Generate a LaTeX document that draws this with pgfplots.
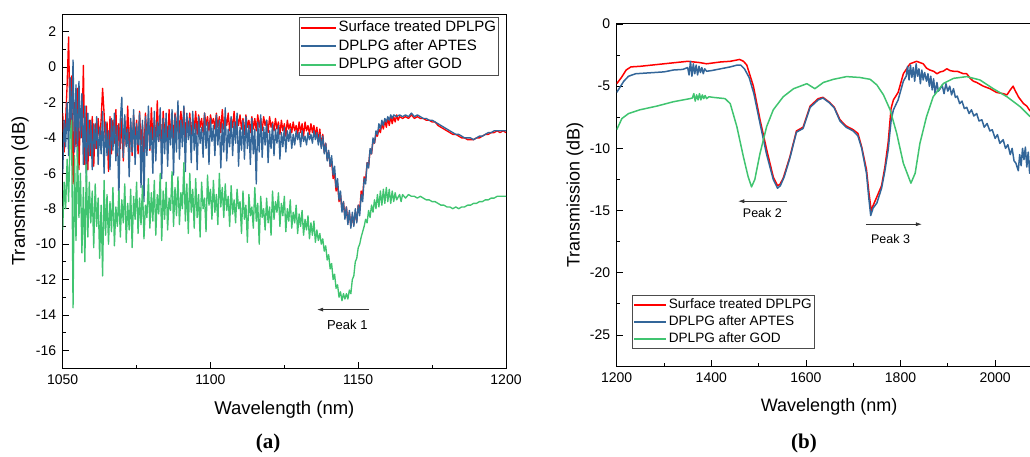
\documentclass[border=0pt]{standalone}
\usepackage{fontspec}
\setmainfont{Liberation Sans}
\newfontfamily\capfont{Liberation Serif}
\usepackage{pgfplots}
\pgfplotsset{compat=1.18}
\usetikzlibrary{arrows.meta}
\definecolor{cRed}{RGB}{255,0,0}
\definecolor{cBlue}{RGB}{51,102,153}
\definecolor{cGreen}{RGB}{64,196,112}

\pgfplotsset{
  specplot/.style={
    scale only axis,
    anchor=south west,
    axis line style={line width=1pt},
    tick align=inside,
    tick pos=left,
    major tick length=6pt, minor tick length=3.5pt,
    every tick/.style={black, line width=0.8pt},
    minor x tick num=1, minor y tick num=1,
    tick label style={font=\fontsize{14}{16}\selectfont},
    label style={font=\fontsize{18.5}{21}\selectfont},
    /pgf/number format/assume math mode=true,
    /pgf/number format/1000 sep={},
    yticklabel style={xshift=-3pt},
    xticklabel style={yshift=-3pt},
    legend cell align=left,
    every axis plot/.append style={line width=1.35pt, line join=round},
  }
}

\begin{document}
\begin{tikzpicture}
\useasboundingbox (0,0) rectangle (1030pt,456pt);

% ---------- (a) ----------
\begin{axis}[specplot,
  at={(62.7pt,88pt)}, width=443.3pt, height=354pt,
  xmin=1050, xmax=1200, ymin=-17, ymax=3,
  xtick={1050,1100,1150,1200},
  ytick={-16,-14,-12,-10,-8,-6,-4,-2,0,2},
  xlabel={Wavelength (nm)}, ylabel={Transmission (dB)},
  xlabel style={at={(axis description cs:0.5,-0.1186)}, anchor=center},
  ylabel style={at={(axis description cs:-0.0963,0.5)}, anchor=center},
  legend image code/.code={\draw[#1,line width=2pt] (0pt,0pt) -- (35pt,0pt);},
  legend style={at={(1,1)}, anchor=north east, xshift=-7pt, yshift=-3pt,
    draw=black!70, line width=0.7pt, font=\fontsize{15}{18}\selectfont,
    inner sep=1pt, row sep=0pt,
    nodes={inner sep=1.5pt, text height=12pt, text depth=3.5pt}},
]
\addplot[cRed] coordinates {
(1050,-2.6)(1050.5,-4.8)(1051,-3.0)(1051.5,-1.0)(1052,1.7)(1052.5,-3.5)(1053,-0.5)(1053.5,-6.6)(1054,-2.0)(1054.5,-4.5)
(1055,-1.2)(1055.5,-5.8)(1056,-2.5)(1056.5,-4.0)(1057,0.1)(1057.5,-5.5)(1058,-2.2)(1058.5,-5.8)(1059,-3.0)(1059.5,-5.0)
(1060,-2.8)(1060.5,-5.6)(1061,-3.2)(1061.5,-4.6)(1062,-2.9)(1062.5,-4.2)(1063,-3.0)(1063.5,-1.2)(1064,-2.6)(1064.5,-4.5)
(1065,-3.1)(1065.5,-5.9)(1066,-2.8)(1066.5,-4.9)(1067,-3.0)(1067.5,-4.3)(1068,-2.4)(1068.5,-5.0)(1069,-3.2)(1069.5,-4.6)
(1070,-2.9)(1070.5,-5.3)(1071,-3.0)(1071.5,-4.4)(1072,-2.2)(1072.5,-4.8)(1073,-3.1)(1073.5,-5.0)(1074,-2.7)(1074.5,-4.2)
(1075,-3.0)(1075.5,-4.9)(1076,-2.5)(1076.5,-4.4)(1077,-3.3)(1077.5,-5.1)(1078,-2.6)(1078.5,-4.0)(1079,-2.9)(1079.5,-4.7)
(1080,-2.3)(1080.5,-4.1)(1081,-3.0)(1081.5,-4.5)(1082,-1.9)(1082.5,-4.2)(1083,-2.8)(1083.5,-4.6)(1084,-2.5)(1084.5,-3.9)
(1085,-2.9)(1085.5,-4.4)(1086,-2.4)(1086.5,-4.0)(1087,-2.7)(1087.5,-4.3)(1088,-2.6)(1088.5,-3.8)(1089,-2.2)(1089.5,-4.1)
(1090,-2.5)(1090.5,-3.7)(1091,-2.3)(1091.5,-4.0)(1092,-2.8)(1092.5,-3.6)(1093,-2.6)(1093.5,-3.9)(1094,-2.9)(1094.5,-3.5)
(1095,-2.5)(1095.5,-3.8)(1096,-2.7)(1096.5,-3.4)(1097,-2.9)(1097.5,-3.7)(1098,-2.6)(1098.5,-3.3)(1099,-2.8)(1099.5,-3.6)
(1100,-2.7)(1100.5,-3.2)(1101,-2.9)(1101.5,-3.5)(1102,-2.6)(1102.5,-3.4)(1103,-2.8)(1103.5,-3.7)(1104,-2.4)(1104.5,-3.5)
(1105,-2.8)(1105.5,-3.3)(1106,-2.6)(1106.5,-3.6)(1107,-2.9)(1107.5,-3.4)(1108,-2.5)(1108.5,-3.7)(1109,-2.8)(1109.5,-3.3)
(1110,-2.7)(1110.5,-3.5)(1111,-2.9)(1111.5,-3.8)(1112,-2.7)(1112.5,-3.4)(1113,-3.0)(1113.5,-3.7)(1114,-2.8)(1114.5,-3.5)
(1115,-2.9)(1115.5,-3.6)(1116,-2.7)(1116.5,-3.4)(1117,-2.9)(1117.5,-3.6)(1118,-2.8)(1118.5,-3.3)(1119,-3.0)(1119.5,-3.7)
(1120,-2.8)(1120.5,-3.4)(1121,-3.1)(1121.5,-3.6)(1122,-2.9)(1122.5,-3.5)(1123,-3.1)(1123.5,-3.8)(1124,-3.0)(1124.5,-3.6)
(1125,-3.2)(1125.5,-3.9)(1126,-3.0)(1126.5,-3.5)(1127,-3.2)(1127.5,-3.7)(1128,-3.1)(1128.5,-3.6)(1129,-3.3)(1129.5,-3.8)
(1130,-3.1)(1130.5,-3.7)(1131,-3.2)(1131.5,-3.9)(1132,-3.1)(1132.5,-3.6)(1133,-3.3)(1133.5,-3.8)(1134,-3.2)(1134.5,-3.7)
(1135,-3.3)(1135.5,-3.9)(1136,-3.4)(1136.5,-4.2)(1137,-3.5)(1137.5,-4.5)(1138,-3.8)(1138.5,-4.8)(1139,-4.3)(1139.5,-5.2)
(1140,-4.8)(1140.5,-5.6)(1141,-5.3)(1141.5,-6.3)(1142,-6.0)(1142.5,-7.0)(1143,-6.6)(1143.5,-7.6)(1144,-7.2)(1144.5,-8.1)
(1145,-7.6)(1145.5,-8.5)(1146,-7.9)(1146.5,-8.8)(1147,-8.2)(1147.5,-9.0)(1148,-8.4)(1148.5,-8.9)(1149,-8.2)(1149.5,-8.7)
(1150,-7.8)(1150.5,-8.1)(1151,-7.0)(1151.5,-7.3)(1152,-6.2)(1152.5,-6.4)(1153,-5.4)(1153.5,-5.6)(1154,-4.7)(1154.5,-4.9)
(1155,-4.2)(1155.5,-4.3)(1156,-3.8)(1156.5,-3.9)(1157,-3.5)(1157.5,-3.7)(1158,-3.2)(1158.5,-3.5)(1159,-3.0)(1159.5,-3.4)
(1160,-2.9)(1160.5,-3.3)(1161,-2.8)(1161.5,-3.2)(1162,-2.8)(1162.5,-3.1)(1163,-2.7)(1163.5,-3.0)(1164,-2.8)(1165,-2.9)
(1166,-2.8)(1167,-2.9)(1168,-2.7)(1169,-2.9)(1170,-2.8)(1171,-2.9)(1172,-2.9)(1173,-3.0)(1174,-3.0)(1175,-3.1)
(1176,-3.1)(1177,-3.3)(1178,-3.4)(1179,-3.5)(1180,-3.6)(1181,-3.7)(1182,-3.8)(1183,-3.8)(1184,-3.9)(1185,-4.0)
(1186,-4.0)(1187,-4.1)(1188,-4.1)(1189,-4.1)(1190,-4.0)(1191,-4.0)(1192,-3.9)(1193,-3.8)(1194,-3.8)(1195,-3.7)
(1196,-3.7)(1197,-3.6)(1198,-3.7)(1199,-3.6)(1200,-3.7)
};
\addlegendentry{Surface treated DPLPG}
\addplot[cBlue] coordinates {
(1050,-6.0)(1050.5,-3.0)(1051,-4.5)(1051.5,-2.0)(1052,-5.0)(1052.5,-0.6)(1053,-3.8)(1053.5,0.4)(1054,-4.8)(1054.5,-1.0)
(1055,-5.2)(1055.5,-0.8)(1056,-4.0)(1056.5,-1.5)(1057,-5.5)(1057.5,-2.2)(1058,-6.5)(1058.5,-2.6)(1059,-5.0)(1059.5,-3.0)
(1060,-5.8)(1060.5,-3.2)(1061,-4.6)(1061.5,-2.8)(1062,-5.5)(1062.5,-3.4)(1063,-4.9)(1063.5,-2.5)(1064,-6.0)(1064.5,-3.1)
(1065,-5.0)(1065.5,-3.6)(1066,-5.8)(1066.5,-2.9)(1067,-4.7)(1067.5,-2.6)(1068,-5.3)(1068.5,-3.3)(1069,-7.5)(1069.5,-3.0)
(1070,-1.7)(1070.5,-5.1)(1071,-2.7)(1071.5,-4.5)(1072,-3.5)(1072.5,-6.2)(1073,-2.9)(1073.5,-4.8)(1074,-2.4)(1074.5,-5.5)
(1075,-3.2)(1075.5,-4.4)(1076,-2.6)(1076.5,-6.8)(1077,-3.0)(1077.5,-7.6)(1078,-2.8)(1078.5,-5.0)(1079,-2.2)(1079.5,-4.6)
(1080,-3.4)(1080.5,-6.0)(1081,-2.5)(1081.5,-5.3)(1082,-3.1)(1082.5,-4.2)(1083,-2.3)(1083.5,-6.3)(1084,-2.9)(1084.5,-4.9)
(1085,-2.6)(1085.5,-5.6)(1086,-3.3)(1086.5,-4.4)(1087,-2.4)(1087.5,-6.1)(1088,-2.7)(1088.5,-4.8)(1089,-1.9)(1089.5,-5.2)
(1090,-3.0)(1090.5,-4.5)(1091,-2.2)(1091.5,-5.9)(1092,-2.6)(1092.5,-4.1)(1093,-2.9)(1093.5,-5.4)(1094,-2.5)(1094.5,-4.7)
(1095,-3.2)(1095.5,-5.8)(1096,-2.8)(1096.5,-4.3)(1097,-3.4)(1097.5,-5.1)(1098,-2.6)(1098.5,-4.6)(1099,-3.1)(1099.5,-5.5)
(1100,-2.9)(1100.5,-4.2)(1101,-3.3)(1101.5,-5.0)(1102,-2.7)(1102.5,-4.4)(1103,-3.0)(1103.5,-5.7)(1104,-3.2)(1104.5,-4.8)
(1105,-2.3)(1105.5,-5.3)(1106,-3.5)(1106.5,-4.5)(1107,-2.8)(1107.5,-5.0)(1108,-3.1)(1108.5,-4.3)(1109,-2.6)(1109.5,-5.6)
(1110,-3.4)(1110.5,-4.7)(1111,-3.0)(1111.5,-5.2)(1112,-2.8)(1112.5,-4.6)(1113,-3.3)(1113.5,-5.5)(1114,-2.9)(1114.5,-4.9)
(1115,-3.5)(1115.5,-6.6)(1116,-3.1)(1116.5,-4.8)(1117,-2.7)(1117.5,-5.1)(1118,-3.4)(1118.5,-4.4)(1119,-3.0)(1119.5,-5.4)
(1120,-3.6)(1120.5,-4.6)(1121,-3.2)(1121.5,-5.0)(1122,-3.5)(1122.5,-4.3)(1123,-3.3)(1123.5,-5.2)(1124,-3.7)(1124.5,-4.5)
(1125,-3.4)(1125.5,-4.8)(1126,-3.6)(1126.5,-4.2)(1127,-3.5)(1127.5,-4.6)(1128,-3.8)(1128.5,-4.4)(1129,-3.6)(1129.5,-4.1)
(1130,-3.7)(1130.5,-4.5)(1131,-3.6)(1131.5,-4.2)(1132,-3.9)(1132.5,-4.4)(1133,-3.7)(1133.5,-4.1)(1134,-3.8)(1134.5,-4.3)
(1135,-3.6)(1135.5,-4.1)(1136,-3.7)(1136.5,-4.4)(1137,-3.8)(1137.5,-4.6)(1138,-3.9)(1138.5,-4.9)(1139,-4.3)(1139.5,-5.3)
(1140,-4.7)(1140.5,-5.6)(1141,-5.0)(1141.5,-6.1)(1142,-5.6)(1142.5,-6.8)(1143,-6.3)(1143.5,-7.5)(1144,-7.0)(1144.5,-8.2)
(1145,-7.6)(1145.5,-8.6)(1146,-7.9)(1146.5,-8.9)(1147,-8.1)(1147.5,-9.1)(1148,-8.2)(1148.5,-9.0)(1149,-8.0)(1149.5,-8.8)
(1150,-7.8)(1150.5,-8.4)(1151,-7.2)(1151.5,-7.6)(1152,-6.3)(1152.5,-6.6)(1153,-5.4)(1153.5,-5.7)(1154,-4.6)(1154.5,-4.9)
(1155,-4.0)(1155.5,-4.3)(1156,-3.6)(1156.5,-3.8)(1157,-3.2)(1157.5,-3.5)(1158,-3.0)(1158.5,-3.3)(1159,-2.9)(1159.5,-3.1)
(1160,-2.8)(1160.5,-3.0)(1161,-2.7)(1161.5,-2.9)(1162,-2.7)(1163,-2.8)(1164,-2.7)(1165,-2.8)(1166,-2.7)(1167,-2.8)
(1168,-2.6)(1169,-2.8)(1170,-2.7)(1171,-2.8)(1172,-2.9)(1173,-2.9)(1174,-3.0)(1175,-3.0)(1176,-3.1)(1177,-3.2)
(1178,-3.3)(1179,-3.4)(1180,-3.5)(1181,-3.6)(1182,-3.7)(1183,-3.8)(1184,-3.8)(1185,-3.9)(1186,-4.0)(1187,-4.0)
(1188,-4.0)(1189,-4.1)(1190,-4.0)(1191,-3.9)(1192,-3.9)(1193,-3.8)(1194,-3.7)(1195,-3.7)(1196,-3.6)(1197,-3.6)
(1198,-3.6)(1199,-3.6)(1200,-3.6)
};
\addlegendentry{DPLPG after APTES}
\addplot[cGreen] coordinates {
(1050,-9.2)(1050.5,-6.5)(1051,-8.0)(1051.5,-5.2)(1052,-7.6)(1052.5,-4.0)(1053,-3.0)(1053.5,-13.6)(1054,-5.0)(1054.5,-9.8)
(1055,-4.5)(1055.5,-8.5)(1056,-6.0)(1056.5,-10.5)(1057,-6.8)(1057.5,-11.0)(1058,-5.5)(1058.5,-9.6)(1059,-6.5)(1059.5,-8.8)
(1060,-7.0)(1060.5,-10.2)(1061,-6.6)(1061.5,-9.0)(1062,-7.4)(1062.5,-10.8)(1063,-7.8)(1063.5,-11.8)(1064,-6.4)(1064.5,-9.5)
(1065,-7.2)(1065.5,-10.0)(1066,-7.6)(1066.5,-9.3)(1067,-6.8)(1067.5,-10.1)(1068,-7.9)(1068.5,-9.0)(1069,-7.0)(1069.5,-9.6)
(1070,-7.5)(1070.5,-8.8)(1071,-6.6)(1071.5,-9.9)(1072,-7.7)(1072.5,-9.2)(1073,-6.9)(1073.5,-10.2)(1074,-7.3)(1074.5,-8.6)
(1075,-6.5)(1075.5,-9.4)(1076,-7.4)(1076.5,-8.9)(1077,-6.7)(1077.5,-9.7)(1078,-7.8)(1078.5,-8.5)(1079,-6.3)(1079.5,-9.1)
(1080,-7.1)(1080.5,-8.7)(1081,-6.4)(1081.5,-9.5)(1082,-7.2)(1082.5,-8.3)(1083,-6.0)(1083.5,-9.8)(1084,-7.0)(1084.5,-8.6)
(1085,-6.5)(1085.5,-9.2)(1086,-7.4)(1086.5,-8.1)(1087,-5.9)(1087.5,-9.0)(1088,-6.8)(1088.5,-8.4)(1089,-6.2)(1089.5,-8.9)
(1090,-7.1)(1090.5,-8.0)(1091,-5.4)(1091.5,-8.7)(1092,-6.6)(1092.5,-9.4)(1093,-6.0)(1093.5,-8.2)(1094,-6.9)(1094.5,-9.1)
(1095,-6.3)(1095.5,-8.5)(1096,-7.2)(1096.5,-9.6)(1097,-6.5)(1097.5,-8.0)(1098,-7.4)(1098.5,-9.3)(1099,-6.1)(1099.5,-7.8)
(1100,-6.9)(1100.5,-8.6)(1101,-6.4)(1101.5,-8.2)(1102,-7.2)(1102.5,-8.9)(1103,-6.0)(1103.5,-7.9)(1104,-6.8)(1104.5,-8.5)
(1105,-6.6)(1105.5,-8.1)(1106,-7.3)(1106.5,-9.0)(1107,-6.7)(1107.5,-8.3)(1108,-7.5)(1108.5,-8.8)(1109,-6.9)(1109.5,-8.0)
(1110,-7.6)(1110.5,-9.4)(1111,-7.0)(1111.5,-8.6)(1112,-7.8)(1112.5,-9.9)(1113,-7.2)(1113.5,-8.4)(1114,-7.9)(1114.5,-9.1)
(1115,-6.8)(1115.5,-8.7)(1116,-7.7)(1116.5,-10.0)(1117,-7.3)(1117.5,-8.5)(1118,-8.0)(1118.5,-9.2)(1119,-7.4)(1119.5,-8.8)
(1120,-7.9)(1120.5,-9.5)(1121,-7.0)(1121.5,-8.6)(1122,-7.6)(1122.5,-8.2)(1123,-7.1)(1123.5,-9.0)(1124,-7.7)(1124.5,-8.4)
(1125,-7.3)(1125.5,-9.3)(1126,-8.0)(1126.5,-8.7)(1127,-7.5)(1127.5,-9.1)(1128,-8.2)(1128.5,-8.8)(1129,-7.8)(1129.5,-9.4)
(1130,-8.3)(1130.5,-9.0)(1131,-8.1)(1131.5,-9.5)(1132,-8.6)(1132.5,-9.2)(1133,-8.4)(1133.5,-9.7)(1134,-8.8)(1134.5,-9.5)
(1135,-8.7)(1135.5,-9.9)(1136,-9.2)(1136.5,-9.8)(1137,-9.4)(1137.5,-10.0)(1138,-9.7)(1138.5,-10.4)(1139,-10.1)(1139.5,-10.9)
(1140,-10.6)(1140.5,-11.4)(1141,-11.1)(1141.5,-12.0)(1142,-11.7)(1142.5,-12.5)(1143,-12.3)(1143.5,-13.0)(1144,-12.7)(1144.5,-13.2)
(1145,-12.8)(1145.5,-13.1)(1146,-12.8)(1146.5,-13.1)(1147,-12.6)(1147.5,-12.8)(1148,-12.0)(1148.5,-11.8)(1149,-11.0)(1149.5,-10.8)
(1150,-10.2)(1150.5,-10.0)(1151,-9.6)(1151.5,-9.3)(1152,-9.0)(1152.5,-8.6)(1153,-8.8)(1153.5,-8.1)(1154,-8.5)(1154.5,-7.8)
(1155,-8.2)(1155.5,-7.5)(1156,-8.0)(1156.5,-7.2)(1157,-7.9)(1157.5,-7.0)(1158,-7.8)(1158.5,-6.9)(1159,-7.7)(1159.5,-6.8)
(1160,-7.6)(1160.5,-6.9)(1161,-7.7)(1161.5,-7.0)(1162,-7.6)(1162.5,-7.1)(1163,-7.5)(1164,-7.2)(1164.5,-7.6)(1165,-7.2)
(1166,-7.4)(1167,-7.2)(1168,-7.3)(1169,-7.3)(1170,-7.4)(1171,-7.3)(1172,-7.4)(1173,-7.5)(1174,-7.5)(1175,-7.6)
(1176,-7.6)(1177,-7.7)(1178,-7.8)(1179,-7.8)(1180,-7.9)(1181,-7.9)(1182,-8.0)(1183,-7.9)(1184,-8.0)(1185,-7.9)
(1186,-7.9)(1187,-7.8)(1188,-7.8)(1189,-7.7)(1190,-7.7)(1191,-7.6)(1192,-7.6)(1193,-7.5)(1194,-7.5)(1195,-7.4)
(1196,-7.4)(1197,-7.3)(1198,-7.3)(1199,-7.3)(1200,-7.3)
};
\addlegendentry{DPLPG after GOD}
\draw[-{Latex[length=6pt,width=4pt]}, line width=0.6pt, black!80] (axis cs:1153.7,-13.7) -- (axis cs:1136.1,-13.7);
\node[font=\fontsize{13}{15}\selectfont] at (axis cs:1146.3,-14.55) {Peak 1};
\end{axis}

% ---------- (b) ----------
\begin{axis}[specplot,
  at={(616.7pt,90pt)}, width=473pt, height=342pt,
  xmin=1200, xmax=2200, ymin=-27.5, ymax=0,
  xtick={1200,1400,1600,1800,2000},
  minor xtick={1300,1500,1700,1900,2100},
  ytick={-25,-20,-15,-10,-5,0},
  xlabel={Wavelength (nm)}, ylabel={Transmission (dB)},
  label style={font=\fontsize{18}{21}\selectfont},
  xlabel style={at={(axis description cs:0.449,-0.119)}, anchor=center},
  ylabel style={at={(axis description cs:-0.0882,0.5)}, anchor=center},
  legend image code/.code={\draw[#1,line width=2pt] (0pt,0pt) -- (32pt,0pt);},
  legend style={at={(0,0)}, anchor=south west, xshift=15.3pt, yshift=17pt,
    draw=black!70, line width=0.7pt, font=\fontsize{13.6}{16}\selectfont,
    inner sep=1pt, row sep=0pt,
    nodes={inner sep=1.5pt, text height=10.5pt, text depth=3.5pt}},
  every axis plot/.append style={line width=1.5pt},
]
\addplot[cRed] coordinates {
(1200,-4.8)(1210,-4.3)(1220,-3.7)(1230,-3.45)(1250,-3.4)(1275,-3.3)(1300,-3.2)(1325,-3.1)(1350,-3.0)(1375,-3.1)
(1390,-3.2)(1400,-3.15)(1420,-3.05)(1440,-3.0)(1460,-2.85)(1468,-3.0)(1475,-3.3)(1489,-5.0)(1503,-7.7)(1517,-10.1)
(1531,-12.3)(1540,-13.0)(1545,-12.9)(1552,-12.4)(1566,-10.7)(1580,-8.6)(1594,-8.3)(1609,-6.6)(1626,-6.0)(1636,-5.9)
(1650,-6.3)(1660,-6.7)(1672,-7.7)(1685,-8.2)(1700,-8.5)(1710,-8.8)(1718,-9.9)(1728,-11.7)(1733,-13.5)(1738,-15.0)
(1742,-14.6)(1750,-13.9)(1760,-13.0)(1767,-11.5)(1774,-9.5)(1780,-6.8)(1785,-6.1)(1795,-5.5)(1806,-4.0)(1820,-3.2)
(1834,-3.0)(1841,-3.1)(1848,-3.2)(1855,-3.55)(1862,-3.7)(1870,-3.8)(1877,-4.0)(1884,-3.85)(1890,-3.8)(1898,-3.6)
(1905,-3.75)(1912,-3.8)(1920,-3.8)(1933,-4.0)(1940,-4.0)(1948,-4.4)(1954,-4.6)(1961,-4.7)(1975,-5.0)(1989,-5.2)
(2003,-5.5)(2017,-5.6)(2025,-5.7)(2032,-5.3)(2038,-5.0)(2043,-5.4)(2050,-5.9)(2060,-6.4)(2067,-6.6)(2074,-7.0)
};
\addlegendentry{Surface treated DPLPG}
\addplot[cBlue] coordinates {
(1200,-5.5)(1205,-5.2)(1215,-4.6)(1225,-4.2)(1240,-4.0)(1260,-3.95)(1280,-3.9)(1300,-3.85)(1320,-3.7)(1340,-3.65)
(1350,-3.5)(1353,-4.1)(1356,-3.0)(1359,-4.2)(1362,-3.2)(1365,-4.0)(1368,-3.3)(1371,-4.1)(1374,-3.4)(1377,-3.9)
(1380,-3.5)(1383,-4.0)(1386,-3.6)(1390,-3.8)(1400,-3.75)(1420,-3.6)(1440,-3.45)(1455,-3.3)(1462,-3.3)(1470,-3.6)
(1480,-4.3)(1490,-5.6)(1503,-8.0)(1517,-10.5)(1531,-12.5)(1540,-13.2)(1546,-13.0)(1554,-12.3)(1566,-10.8)(1580,-8.7)
(1594,-8.4)(1609,-6.7)(1626,-6.1)(1636,-5.95)(1650,-6.35)(1660,-6.75)(1672,-7.8)(1685,-8.3)(1700,-8.6)(1710,-9.0)
(1718,-10.0)(1728,-12.0)(1733,-14.0)(1737,-15.4)(1742,-14.8)(1750,-14.4)(1760,-13.2)(1767,-11.8)(1774,-10.1)(1780,-7.8)
(1785,-6.9)(1795,-6.1)(1806,-4.6)(1812,-4.2)(1815,-3.4)(1818,-4.5)(1821,-3.3)(1824,-4.3)(1827,-3.5)(1830,-4.6)
(1833,-3.2)(1836,-4.2)(1839,-3.6)(1842,-4.8)(1845,-3.7)(1848,-4.5)(1851,-3.9)(1855,-4.6)(1858,-4.0)(1861,-5.0)
(1864,-4.2)(1867,-5.3)(1870,-4.4)(1873,-5.6)(1877,-4.7)(1880,-5.4)(1884,-5.2)(1888,-4.9)(1892,-5.6)(1896,-4.8)
(1900,-5.4)(1904,-5.0)(1908,-5.7)(1912,-5.2)(1916,-5.9)(1920,-5.8)(1925,-6.4)(1930,-6.2)(1935,-6.8)(1940,-6.7)
(1945,-7.2)(1950,-6.9)(1955,-7.4)(1961,-7.2)(1966,-7.8)(1972,-7.7)(1977,-8.3)(1983,-8.0)(1989,-8.6)(1994,-8.5)
(2000,-9.2)(2005,-8.9)(2010,-9.6)(2017,-9.3)(2022,-10.0)(2027,-9.7)(2032,-10.5)(2036,-10.0)(2040,-11.0)(2044,-11.2)
(2049,-11.8)(2052,-10.5)(2055,-11.4)(2058,-10.0)(2061,-10.9)(2064,-9.9)(2067,-11.5)(2070,-10.3)(2073,-12.0)(2075,-11.0)
};
\addlegendentry{DPLPG after APTES}
\addplot[cGreen] coordinates {
(1200,-8.5)(1211,-7.6)(1225,-7.2)(1249,-6.9)(1285,-6.6)(1320,-6.25)(1355,-6.0)(1360,-5.95)(1363,-5.6)(1366,-6.2)
(1369,-5.7)(1372,-6.1)(1375,-5.6)(1378,-6.1)(1381,-5.7)(1384,-6.0)(1387,-5.75)(1390,-6.0)(1395,-5.85)(1404,-5.9)
(1429,-6.0)(1440,-6.4)(1454,-8.25)(1468,-10.7)(1478,-12.3)(1485,-13.1)(1492,-12.5)(1503,-10.4)(1517,-8.25)(1531,-6.9)
(1552,-5.85)(1574,-5.2)(1602,-4.8)(1619,-5.2)(1637,-4.7)(1658,-4.45)(1686,-4.23)(1714,-4.3)(1736,-4.45)(1750,-4.9)
(1764,-5.7)(1778,-6.9)(1792,-8.8)(1806,-11.2)(1822,-12.8)(1831,-12.0)(1841,-9.6)(1855,-7.45)(1869,-5.85)(1891,-4.77)
(1912,-4.37)(1940,-4.23)(1968,-4.5)(1996,-5.2)(2025,-5.85)(2053,-6.65)(2074,-7.45)
};
\addlegendentry{DPLPG after GOD}
\draw[-{Latex[length=6pt,width=4pt]}, line width=0.6pt, black!80] (axis cs:1559,-14.25) -- (axis cs:1457,-14.25);
\node[font=\fontsize{12.5}{15}\selectfont] at (axis cs:1508,-15.2) {Peak 2};
\draw[-{Latex[length=6pt,width=4pt]}, line width=0.6pt, black!80] (axis cs:1727,-16.1) -- (axis cs:1845,-16.1);
\node[font=\fontsize{12.5}{15}\selectfont] at (axis cs:1779,-17.3) {Peak 3};
\end{axis}

\node[font=\capfont\bfseries\fontsize{21}{24}\selectfont] at (268pt,13pt) {(a)};
\node[font=\capfont\bfseries\fontsize{21}{24}\selectfont] at (804pt,13pt) {(b)};
\end{tikzpicture}
\end{document}
